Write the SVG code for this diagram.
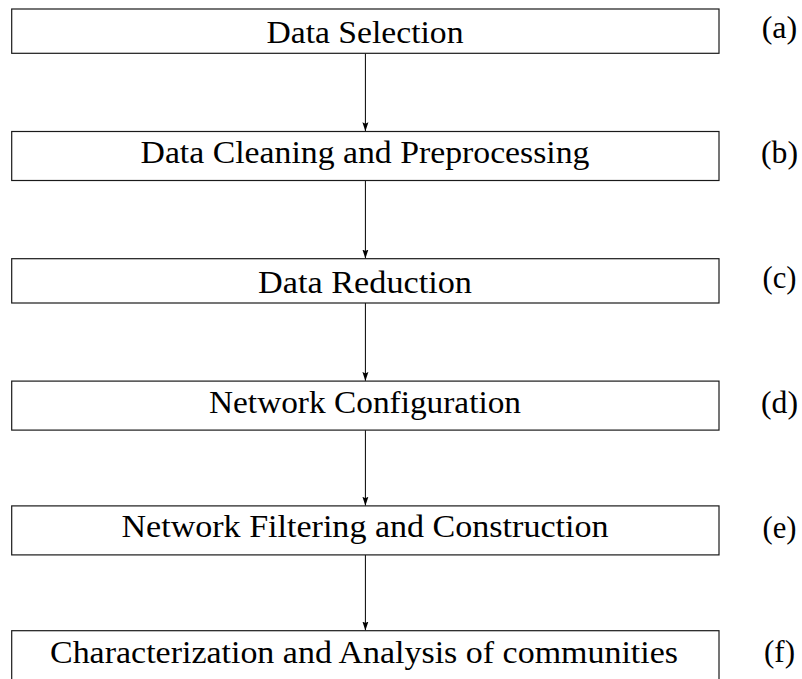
<svg xmlns="http://www.w3.org/2000/svg" width="802" height="679" viewBox="0 0 802 679">
  <style>
    .box { fill: #ffffff; stroke: #1a1a1a; stroke-width: 1.2; }
    .txt { font-family: "Liberation Serif", "Times New Roman", serif; font-size: 31px; fill: #000; text-anchor: middle; }
    .lbl { font-family: "Liberation Serif", "Times New Roman", serif; font-size: 31px; fill: #000; text-anchor: middle; }
    .edge { stroke: #000; stroke-width: 1; fill: none; }
  </style>
  <defs>
    <marker id="arrow" markerUnits="userSpaceOnUse" markerWidth="10" markerHeight="8" refX="9" refY="3.5" orient="auto">
      <path d="M0,0.5 L9,3.5 L0,6.5 L1.5,3.5 z" fill="#000"/>
    </marker>
  </defs>
  <rect width="802" height="679" fill="#ffffff"/>

  <g id="connectors">
    <line class="edge" x1="365.4" y1="53.3" x2="365.4" y2="131.3" marker-end="url(#arrow)"/>
    <line class="edge" x1="365.4" y1="180.5" x2="365.4" y2="258.5" marker-end="url(#arrow)"/>
    <line class="edge" x1="365.4" y1="303" x2="365.4" y2="380.9" marker-end="url(#arrow)"/>
    <line class="edge" x1="365.4" y1="430.1" x2="365.4" y2="505.7" marker-end="url(#arrow)"/>
    <line class="edge" x1="365.4" y1="554.9" x2="365.4" y2="630.5" marker-end="url(#arrow)"/>
  </g>

  <g id="node-a">
    <rect class="box" x="11.7" y="9" width="707.3" height="44.3"/>
    <text class="txt" x="365" y="43.2" textLength="197" lengthAdjust="spacingAndGlyphs">Data Selection</text>
    <text class="lbl" x="779.5" y="38.3" textLength="35.6" lengthAdjust="spacingAndGlyphs">(a)</text>
  </g>
  <g id="node-b">
    <rect class="box" x="11.7" y="131.5" width="707.3" height="49"/>
    <text class="txt" x="365" y="163" textLength="449" lengthAdjust="spacingAndGlyphs">Data Cleaning and Preprocessing</text>
    <text class="lbl" x="779.5" y="163.1" textLength="37" lengthAdjust="spacingAndGlyphs">(b)</text>
  </g>
  <g id="node-c">
    <rect class="box" x="11.7" y="258.7" width="707.3" height="44.3"/>
    <text class="txt" x="365" y="292.8" textLength="214" lengthAdjust="spacingAndGlyphs">Data Reduction</text>
    <text class="lbl" x="779.5" y="287.9" textLength="34" lengthAdjust="spacingAndGlyphs">(c)</text>
  </g>
  <g id="node-d">
    <rect class="box" x="11.7" y="381.1" width="707.3" height="49"/>
    <text class="txt" x="365" y="412.6" textLength="312" lengthAdjust="spacingAndGlyphs">Network Configuration</text>
    <text class="lbl" x="779.5" y="412.7" textLength="37" lengthAdjust="spacingAndGlyphs">(d)</text>
  </g>
  <g id="node-e">
    <rect class="box" x="11.7" y="505.9" width="707.3" height="49"/>
    <text class="txt" x="365" y="537.2" textLength="487" lengthAdjust="spacingAndGlyphs">Network Filtering and Construction</text>
    <text class="lbl" x="779.5" y="537.5" textLength="34" lengthAdjust="spacingAndGlyphs">(e)</text>
  </g>
  <g id="node-f">
    <rect class="box" x="11.7" y="630.7" width="707.3" height="49"/>
    <text class="txt" x="364" y="662.5" textLength="628" lengthAdjust="spacingAndGlyphs">Characterization and Analysis of communities</text>
    <text class="lbl" x="779.5" y="662.3" textLength="31" lengthAdjust="spacingAndGlyphs">(f)</text>
  </g>
</svg>
